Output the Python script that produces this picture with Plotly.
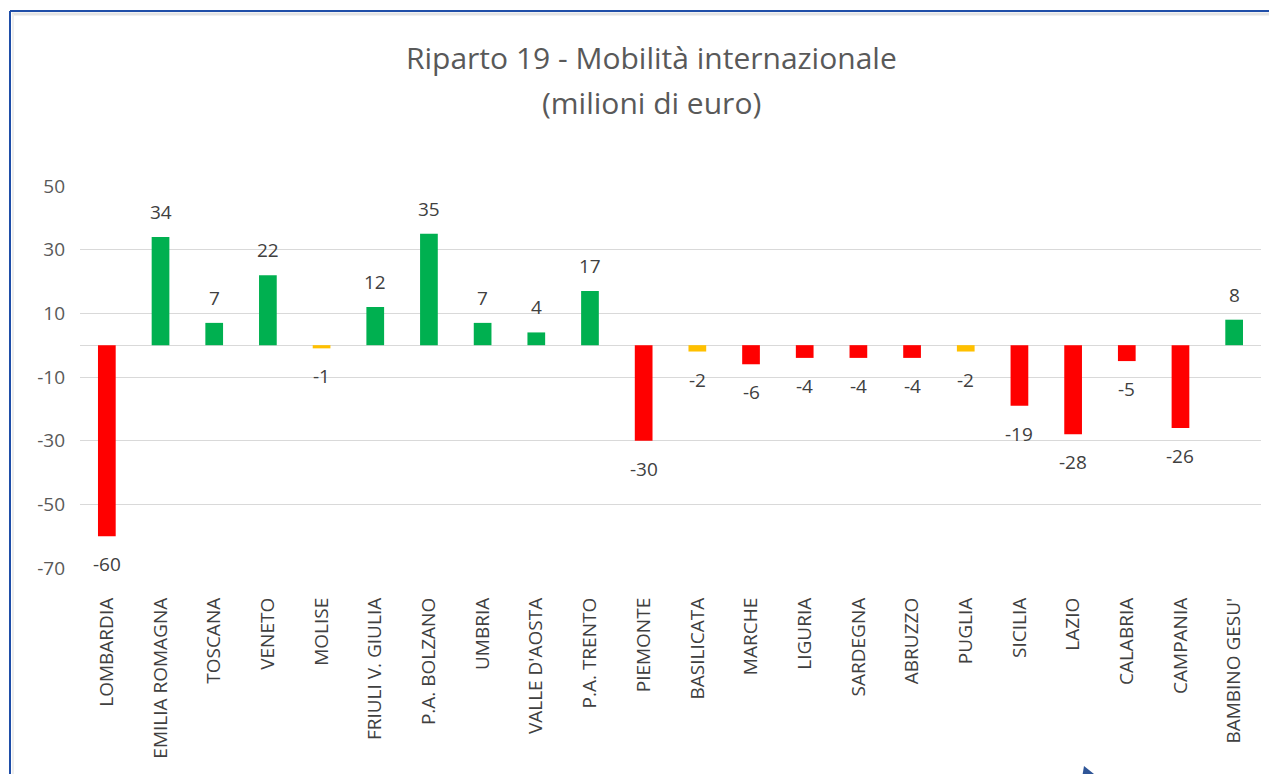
import plotly.graph_objects as go

categories = ["LOMBARDIA", "EMILIA ROMAGNA", "TOSCANA", "VENETO", "MOLISE",
              "FRIULI V. GIULIA", "P.A. BOLZANO", "UMBRIA", "VALLE D'AOSTA",
              "P.A. TRENTO", "PIEMONTE", "BASILICATA", "MARCHE", "LIGURIA",
              "SARDEGNA", "ABRUZZO", "PUGLIA", "SICILIA", "LAZIO", "CALABRIA",
              "CAMPANIA", "BAMBINO GESU'"]
values = [-60, 34, 7, 22, -1, 12, 35, 7, 4, 17, -30, -2, -6, -4, -4, -4, -2,
          -19, -28, -5, -26, 8]
tick_values = [50, 30, 10, -10, -30, -50, -70]
title_line1 = "Riparto 19 - Mobilità internazionale"
title_line2 = "(milioni di euro)"

GREEN = "#00B050"
RED = "#FF0000"
YELLOW = "#FFC000"


def bar_color(v):
    if v > 0:
        return GREEN
    if v >= -2:
        return YELLOW
    return RED


colors = [bar_color(v) for v in values]

OFF = 8  # page body margin offset
PAGE_W, PAGE_H = 1277, 774
W, H = PAGE_W - OFF, PAGE_H - OFF
# plot area in page pixels: x 80..1261, y 186..568
L = 80 - OFF
T = 186 - OFF
R = W - (1261 - OFF)
B = H - (568 - OFF)
PW, PH = W - L - R, H - T - B


def px(xp):
    return (xp - OFF - L) / PW


def py(yp):
    return (H - B - (yp - OFF)) / PH


fig = go.Figure()
fig.add_trace(go.Bar(x=categories, y=values, marker_color=colors,
                     marker_line_width=0, width=0.33, showlegend=False,
                     hoverinfo="x+y"))

annotations = []
for c, v in zip(categories, values):
    annotations.append(dict(x=c, y=v, text=str(v), showarrow=False,
                            xref="x", yref="y", yanchor="middle",
                            yshift=25 if v > 0 else -28,
                            font=dict(family="Open Sans", size=19, color="#404040")))

title_font = dict(family="Open Sans", size=30, color="#595959")
annotations.append(dict(text=title_line1, showarrow=False, xref="paper", yref="paper",
                        x=px(651), y=py(57), xanchor="center", yanchor="middle",
                        font=title_font))
annotations.append(dict(text=title_line2, showarrow=False, xref="paper", yref="paper",
                        x=px(651), y=py(102), xanchor="center", yanchor="middle",
                        font=title_font))

shapes = [
    # frame shadow
    dict(type="line", xref="paper", yref="paper", x0=px(12), x1=px(PAGE_W + 20),
         y0=py(14), y1=py(14), line=dict(color="#E4E4E4", width=3)),
    dict(type="line", xref="paper", yref="paper", x0=px(13), x1=px(13),
         y0=py(14), y1=py(PAGE_H + 20), line=dict(color="#EEEEEE", width=2)),
    # blue frame
    dict(type="line", xref="paper", yref="paper", x0=px(10), x1=px(PAGE_W + 20),
         y0=py(11), y1=py(11), line=dict(color="#1F4EA8", width=2)),
    dict(type="line", xref="paper", yref="paper", x0=px(10), x1=px(10),
         y0=py(11), y1=py(PAGE_H + 20), line=dict(color="#1F4EA8", width=2)),
    # partial arrow at bottom
    dict(type="path", xref="paper", yref="paper",
         path=f"M {px(1082)} {py(778)} L {px(1084)} {py(766)} L {px(1099)} {py(778)} Z",
         fillcolor="#2F5597", line=dict(width=0)),
]

fig.update_layout(
    width=W, height=H,
    margin=dict(l=L, r=R, t=T, b=B),
    paper_bgcolor="white", plot_bgcolor="white",
    xaxis=dict(tickangle=-90, tickfont=dict(family="Open Sans", size=19, color="#404040"),
               showgrid=False, showline=False, ticks="", ticklabelstandoff=25),
    yaxis=dict(range=[-70, 50], tickvals=tick_values, ticktext=[str(t) for t in tick_values],
               showgrid=True, gridcolor="#D9D9D9", gridwidth=1,
               zeroline=True, zerolinecolor="#D9D9D9", zerolinewidth=1,
               tickfont=dict(family="Open Sans", size=19, color="#595959"),
               ticks="", ticklabelstandoff=14),
    annotations=annotations,
    shapes=shapes,
    bargap=0.67,
)

fig.write_html("out.html")
